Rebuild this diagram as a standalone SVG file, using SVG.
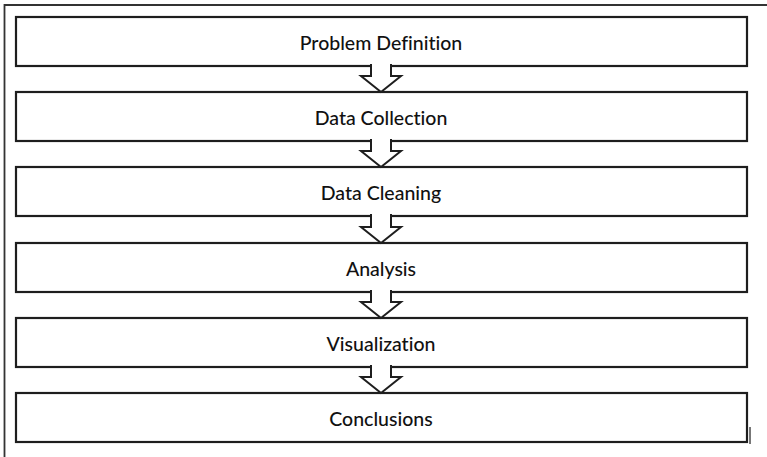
<svg xmlns="http://www.w3.org/2000/svg" width="767" height="457" viewBox="0 0 767 457">
<style>
.box{fill:#fff;stroke:#1e1e1e;stroke-width:2.2}
.lbl{font-family:Lato,"Liberation Sans",sans-serif;font-size:19.5px;font-weight:500;fill:#111;text-anchor:middle;dominant-baseline:central;font-variant-ligatures:none}
.arr{fill:#fff;stroke:#1e1e1e;stroke-width:2;stroke-linejoin:miter}
.frame{fill:none;stroke:#333;stroke-width:1.8}
</style>
<rect width="767" height="457" fill="#fff"/>
<path class="frame" d="M4.5,457 V5 H767"/>
<line x1="750" y1="427" x2="750" y2="444" stroke="#777" stroke-width="2"/>
<g id="n1"><rect class="box" x="16" y="17" width="731" height="49"/><text class="lbl" x="381" y="42">Problem Definition</text></g>
<g id="n2"><rect class="box" x="16" y="92" width="731" height="49"/><text class="lbl" x="381" y="117">Data Collection</text></g>
<g id="n3"><rect class="box" x="16" y="167" width="731" height="49"/><text class="lbl" x="381" y="192">Data Cleaning</text></g>
<g id="n4"><rect class="box" x="16" y="243" width="731" height="49"/><text class="lbl" x="381" y="268">Analysis</text></g>
<g id="n5"><rect class="box" x="16" y="318" width="731" height="49"/><text class="lbl" x="381" y="343">Visualization</text></g>
<g id="n6"><rect class="box" x="16" y="393" width="731" height="49"/><text class="lbl" x="381" y="418">Conclusions</text></g>
<g id="connectors">
<path class="arr" d="M371,64 V76 H361 L381,92 L401,76 H391 V64"/>
<path class="arr" d="M371,139 V151 H361 L381,167 L401,151 H391 V139"/>
<path class="arr" d="M371,214 V227 H361 L381,243 L401,227 H391 V214"/>
<path class="arr" d="M371,290 V302 H361 L381,318 L401,302 H391 V290"/>
<path class="arr" d="M371,365 V377 H361 L381,393 L401,377 H391 V365"/>
</g>
</svg>
